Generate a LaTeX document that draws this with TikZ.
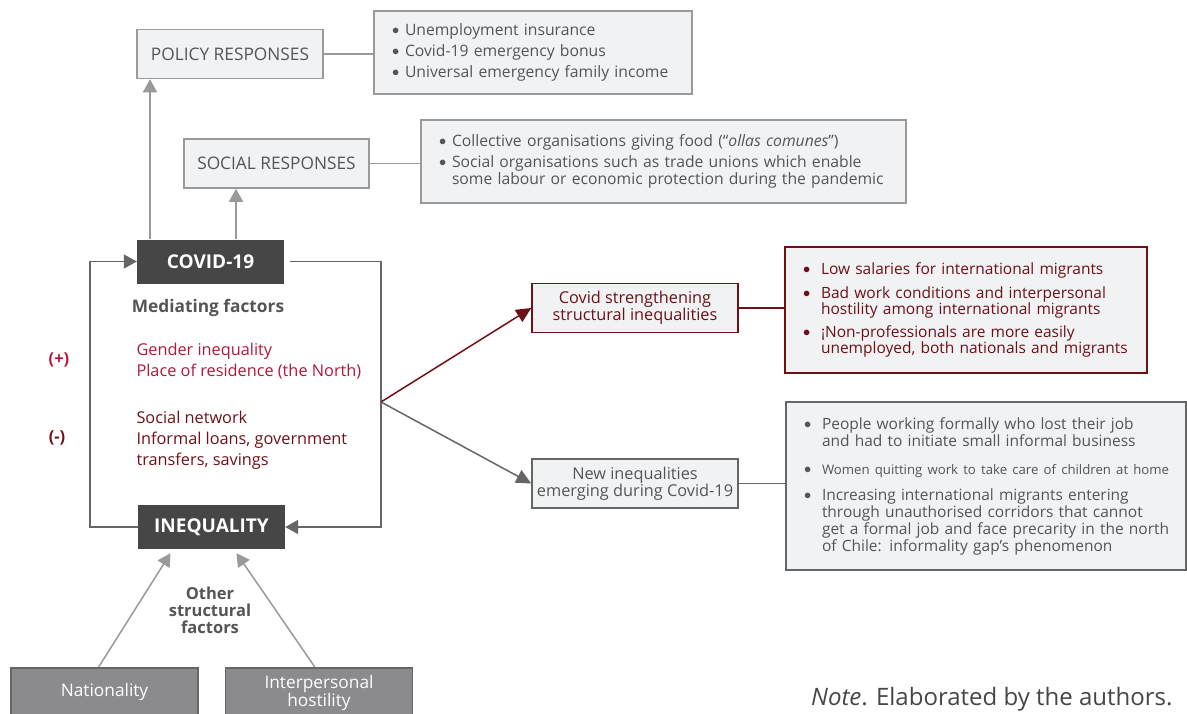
\documentclass[tikz,border=0pt]{standalone}
\usepackage{fontspec}
\setmainfont{Open Sans}
\usetikzlibrary{arrows.meta}
\definecolor{boxfill}{HTML}{F1F2F4}
\definecolor{boxline}{HTML}{9A9A9A}
\definecolor{txtgrey}{HTML}{555555}
\definecolor{darkgrey}{HTML}{464646}
\definecolor{loopgrey}{HTML}{666666}
\definecolor{crimson}{HTML}{B3173C}
\definecolor{maroon}{HTML}{6E1016}
\definecolor{basegrey}{HTML}{8B8B8D}
\newcommand{\li}[2][13pt]{\mbox{\makebox[#1][l]{\raisebox{0.05em}{$\bullet$}}#2}}
\newcommand{\lc}[2][13pt]{\mbox{\hspace*{#1}#2}}

\begin{document}
\begin{tikzpicture}[x=1pt,y=-1pt,
  every node/.style={font=\fontsize{15.7}{21}\selectfont},
  respbox/.style={draw=boxline,fill=boxfill,line width=1.5pt,text=txtgrey,minimum height=49pt,font=\fontsize{17.3}{20}\selectfont},
  listbox/.style={draw=boxline,fill=boxfill,line width=1.5pt,text=txtgrey,align=left,inner xsep=18pt,inner ysep=0pt},
  darkbox/.style={fill=darkgrey,text=white,minimum width=147pt,minimum height=44pt,font=\fontsize{19}{20}\selectfont\bfseries},
  effbox/.style={fill=boxfill,line width=1.5pt,minimum width=206pt,minimum height=49pt,align=center,font=\fontsize{16.3}{17}\selectfont},
  basebox/.style={draw=loopgrey,fill=basegrey,line width=1.5pt,text=white,align=center,minimum width=187pt,minimum height=48pt,font=\fontsize{17.3}{16}\selectfont},
  uparrow/.style={draw=boxline,line width=1.5pt,-{Triangle[width=14pt,length=13pt]}},
  loopline/.style={draw=loopgrey,line width=1.5pt,-{Triangle[width=14pt,length=13pt]}},
  link/.style={line width=1.5pt}]
\clip (0,0) rectangle (1187,713);

\node[respbox,minimum width=186pt] (policy) at (230,54) {POLICY RESPONSES};
\node[listbox,text width=282pt,minimum height=83pt] (policylist) at (533,52.5)
  {\li{Unemployment insurance}\\ \li{Covid-19 emergency bonus}\\ \li{Universal emergency family income}};
\node[respbox,minimum width=185pt] (social) at (276.5,163.5) {SOCIAL RESPONSES};
\node[listbox,text width=449pt,minimum height=83pt,font=\fontsize{15.7}{17}\selectfont] (sociallist) at (663.5,161.5)
  {\li{Collective organisations giving food (“\textit{ollas comunes}”)}\\[4pt]
   \li{Social organisations such as trade unions which enable}\\ \lc{some labour or economic protection during the pandemic}};

\node[darkbox] (covid) at (210.5,261.5) {COVID-19};
\node[darkbox] (ineq) at (211.5,527) {INEQUALITY};

\draw[link,boxline] (policy.east) -- (policy.east -| policylist.west);
\draw[link,boxline] (social.east) -- (social.east -| sociallist.west);
\draw[uparrow] ([xshift=-60.5pt]covid.north) -- ([xshift=-60.5pt]covid.north |- policy.south);
\draw[uparrow] ([xshift=25.5pt]covid.north) -- ([xshift=25.5pt]covid.north |- social.south);

\node[text=txtgrey,font=\fontsize{17.3}{20}\selectfont\bfseries] (mediating) at (208,308) {Mediating factors};
\node[anchor=west,align=left,text=crimson,font=\fontsize{16.3}{21}\selectfont] (positive) at (133,361.5) {Gender inequality\\Place of residence (the North)};
\node[anchor=west,align=left,text=maroon,font=\fontsize{16.3}{21}\selectfont] (negative) at (133,440) {Social network\\Informal loans, government\\transfers, savings};
\node[text=crimson,font=\fontsize{16.5}{18}\selectfont\bfseries] (plus) at (59,360) {(+)};
\node[text=maroon,font=\fontsize{16.5}{18}\selectfont\bfseries] (minus) at (57,438) {(-)};

\coordinate (branch) at (381,402);
\draw[loopline] (ineq.west) -| ([xshift=-47pt]covid.west) -- (covid.west);
\draw[loopline] ([xshift=6pt]covid.east) -| (branch |- ineq.east) -- (ineq.east);

\node[effbox,draw=maroon,text=maroon] (strength) at (635,308) {Covid strengthening\\structural inequalities};
\node[effbox,draw=loopgrey,text=txtgrey] (newineq) at (635,483.5) {New inequalities\\emerging during Covid-19};
\draw[link,maroon,-{Triangle[width=14pt,length=15pt]}] (branch) -- (strength.west);
\draw[link,loopgrey,-{Triangle[width=14pt,length=15pt]}] (branch) -- (newineq.west);

\node[listbox,draw=maroon,text=maroon,text width=326pt,minimum height=126pt,font=\fontsize{15.5}{16}\selectfont] (redlist) at (966,310)
  {\li[18pt]{Low salaries for international migrants}\\[8pt]
   \li[18pt]{Bad work conditions and interpersonal}\\ \lc[18pt]{hostility among international migrants}\\[7pt]
   \li[18pt]{¡Non-professionals are more easily}\\ \lc[18pt]{unemployed, both nationals and migrants}};
\node[listbox,draw=loopgrey,text width=364pt,minimum height=168pt,font=\fontsize{15.5}{17}\selectfont] (greylist) at (986,486)
  {\li[18pt]{People working formally who lost their job}\\ \lc[18pt]{and had to initiate small informal business}\\[11pt]
   \li[18pt]{\fontsize{13.2}{17}\selectfont Women quitting work to take care of children at home}\\[9pt]
   \li[18pt]{Increasing international migrants entering}\\ \lc[18pt]{through unauthorised corridors that cannot}\\ \lc[18pt]{get a formal job and face precarity in the north}\\ \lc[18pt]{of Chile: informality gap’s phenomenon}};
\draw[link,maroon] (strength.east) -- (strength.east -| redlist.west);
\draw[link,loopgrey] (newineq.east) -- (newineq.east -| greylist.west);

\node[basebox] (nationality) at (104.5,692) {Nationality};
\node[basebox,minimum height=50pt] (hostility) at (319,693) {Interpersonal\\hostility};
\node[align=center,text=txtgrey,font=\fontsize{16.5}{17}\selectfont\bfseries] (others) at (210,610) {Other\\structural\\factors};
\draw[uparrow] ([xshift=-6pt]nationality.north) -- ([xshift=-41pt,yshift=-4pt]ineq.south);
\draw[uparrow] ([xshift=-4pt]hostility.north) -- ([xshift=25pt,yshift=-4pt]ineq.south);

\node[anchor=east,text=darkgrey,font=\fontsize{24}{26}\selectfont] (note) at (1176,699) {\textit{Note}. Elaborated by the authors.};
\end{tikzpicture}
\end{document}
